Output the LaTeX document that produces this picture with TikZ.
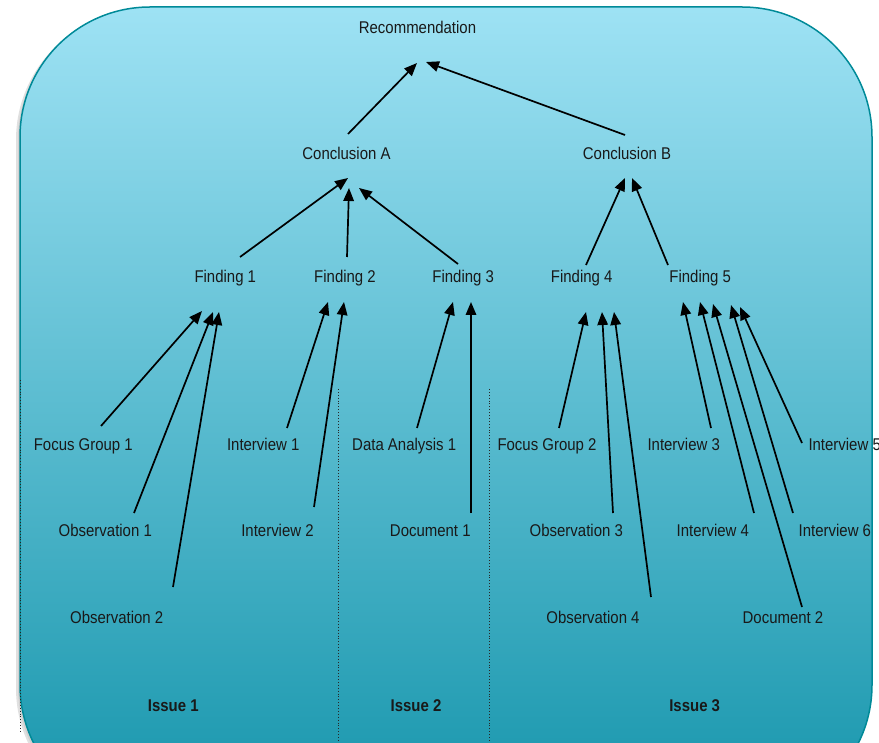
\documentclass[tikz,border=0pt]{standalone}
\usepackage{fontspec}
\newfontfamily\narrowsans{Liberation Sans}[FakeStretch=0.88]
\usetikzlibrary{arrows.meta}
\definecolor{panelTop}{RGB}{158,226,244}
\definecolor{panelMid}{RGB}{122,203,224}
\definecolor{panelBot}{RGB}{34,156,178}
\definecolor{panelEdge}{RGB}{0,138,152}
\begin{document}
\begin{tikzpicture}[x=1pt,y=-1pt,
  lab/.style={font=\narrowsans\fontsize{17}{20}\selectfont, inner sep=0pt, anchor=base, text=black!90},
  issue/.style={lab, font=\narrowsans\bfseries\fontsize{17}{20}\selectfont},
  link/.style={line width=1.7pt, -{Triangle[length=13pt,width=10.5pt]}},
  divider/.style={dotted, line width=0.9pt, black!85},
  panel/.style={rounded corners=130pt}]
\useasboundingbox (0,0) rectangle (879,743);

% soft shadow on the left
\fill[black!12, panel] (16,10) rectangle (868,818);
\fill[black!18, panel] (18,9) rectangle (870,817);

% gradient panel
\begin{scope}
  \clip[panel] (20,7) rectangle (872,815);
  \shade[top color=panelTop, middle color=panelMid, bottom color=panelBot] (20,7) rectangle (872,743);
\end{scope}
\draw[panelEdge, line width=1.5pt, panel] (20,7) rectangle (872,815);

% labels
\node[lab] (rec) at (417.5,34) {Recommendation};
\node[lab] (concA) at (346.5,160) {Conclusion A};
\node[lab] (concB) at (627,160) {Conclusion B};
\node[lab] (f1) at (225.3,283) {Finding 1};
\node[lab] (f2) at (345,283) {Finding 2};
\node[lab] (f3) at (463.2,283) {Finding 3};
\node[lab] (f4) at (581.7,283) {Finding 4};
\node[lab] (f5) at (700.2,283) {Finding 5};
\node[lab] (fg1) at (83.3,450) {Focus Group 1};
\node[lab] (int1) at (263.2,450) {Interview 1};
\node[lab] (da1) at (404.2,450) {Data Analysis 1};
\node[lab] (fg2) at (547,450) {Focus Group 2};
\node[lab] (int3) at (683.7,450) {Interview 3};
\node[lab, anchor=base west] (int5) at (808.3,450) {Interview 5};
\node[lab] (obs1) at (105.3,536) {Observation 1};
\node[lab] (int2) at (277.5,536) {Interview 2};
\node[lab] (doc1) at (430.3,536) {Document 1};
\node[lab] (obs3) at (576.3,536) {Observation 3};
\node[lab] (int4) at (712.8,536) {Interview 4};
\node[lab, anchor=base west] (int6) at (798.5,536) {Interview 6};
\node[lab] (obs2) at (116.7,623) {Observation 2};
\node[lab] (obs4) at (593,623) {Observation 4};
\node[lab] (doc2) at (783,623) {Document 2};
\node[issue] (iss1) at (173.3,711) {Issue 1};
\node[issue] (iss2) at (416,711) {Issue 2};
\node[issue] (iss3) at (694.7,711) {Issue 3};

% connector ends
\coordinate (recA) at (417,63);
\coordinate (recB) at (426,62);
\coordinate (concA-t) at (348,134);
\coordinate (concB-t) at (625,135);
\coordinate (concA-1) at (348,178);
\coordinate (concA-2) at (349,188);
\coordinate (concA-3) at (359,188);
\coordinate (concB-4) at (625,178);
\coordinate (concB-5) at (632,178);
\coordinate (f1-t) at (240,257);
\coordinate (f2-t) at (347,257);
\coordinate (f3-t) at (458,264);
\coordinate (f4-t) at (586,265);
\coordinate (f5-t) at (668,265);
\coordinate (f1-a) at (202,311);
\coordinate (f1-b) at (213,312);
\coordinate (f1-c) at (219,312);
\coordinate (f2-a) at (328,302);
\coordinate (f2-b) at (344,302);
\coordinate (f3-a) at (453,302);
\coordinate (f3-b) at (471,302);
\coordinate (f4-a) at (586,312);
\coordinate (f4-b) at (602,312);
\coordinate (f4-c) at (614,312);
\coordinate (f5-a) at (683,302);
\coordinate (f5-b) at (700,302);
\coordinate (f5-c) at (713,304);
\coordinate (f5-d) at (731,305);
\coordinate (f5-e) at (740,307);
\coordinate (fg1-t) at (101,426);
\coordinate (obs1-t) at (134,513);
\coordinate (obs2-t) at (173,587);
\coordinate (int1-t) at (287,428);
\coordinate (int2-t) at (314,507);
\coordinate (da1-t) at (417,428);
\coordinate (doc1-t) at (471,513);
\coordinate (fg2-t) at (559,428);
\coordinate (obs3-t) at (613,513);
\coordinate (obs4-t) at (651,597);
\coordinate (int3-t) at (711,428);
\coordinate (int4-t) at (754,513);
\coordinate (doc2-t) at (802,607);
\coordinate (int6-t) at (793,513);
\coordinate (int5-t) at (802,443);

% connectors
\draw[link] (concA-t) -- (recA);
\draw[link] (concB-t) -- (recB);
\draw[link] (f1-t) -- (concA-1);
\draw[link] (f2-t) -- (concA-2);
\draw[link] (f3-t) -- (concA-3);
\draw[link] (f4-t) -- (concB-4);
\draw[link] (f5-t) -- (concB-5);
\draw[link] (fg1-t) -- (f1-a);
\draw[link] (obs1-t) -- (f1-b);
\draw[link] (obs2-t) -- (f1-c);
\draw[link] (int1-t) -- (f2-a);
\draw[link] (int2-t) -- (f2-b);
\draw[link] (da1-t) -- (f3-a);
\draw[link] (doc1-t) -- (f3-b);
\draw[link] (fg2-t) -- (f4-a);
\draw[link] (obs3-t) -- (f4-b);
\draw[link] (obs4-t) -- (f4-c);
\draw[link] (int3-t) -- (f5-a);
\draw[link] (int4-t) -- (f5-b);
\draw[link] (doc2-t) -- (f5-c);
\draw[link] (int6-t) -- (f5-d);
\draw[link] (int5-t) -- (f5-e);

% dotted issue dividers
\coordinate (d1-top) at (20.5,380);
\coordinate (d1-bot) at (20.5,733);
\coordinate (d2-top) at (338,389);
\coordinate (d2-bot) at (338,743);
\coordinate (d3-top) at (489,389);
\coordinate (d3-bot) at (489,743);
\draw[divider] (d1-top) -- (d1-bot);
\draw[divider] (d2-top) -- (d2-bot);
\draw[divider] (d3-top) -- (d3-bot);
\end{tikzpicture}
\end{document}
